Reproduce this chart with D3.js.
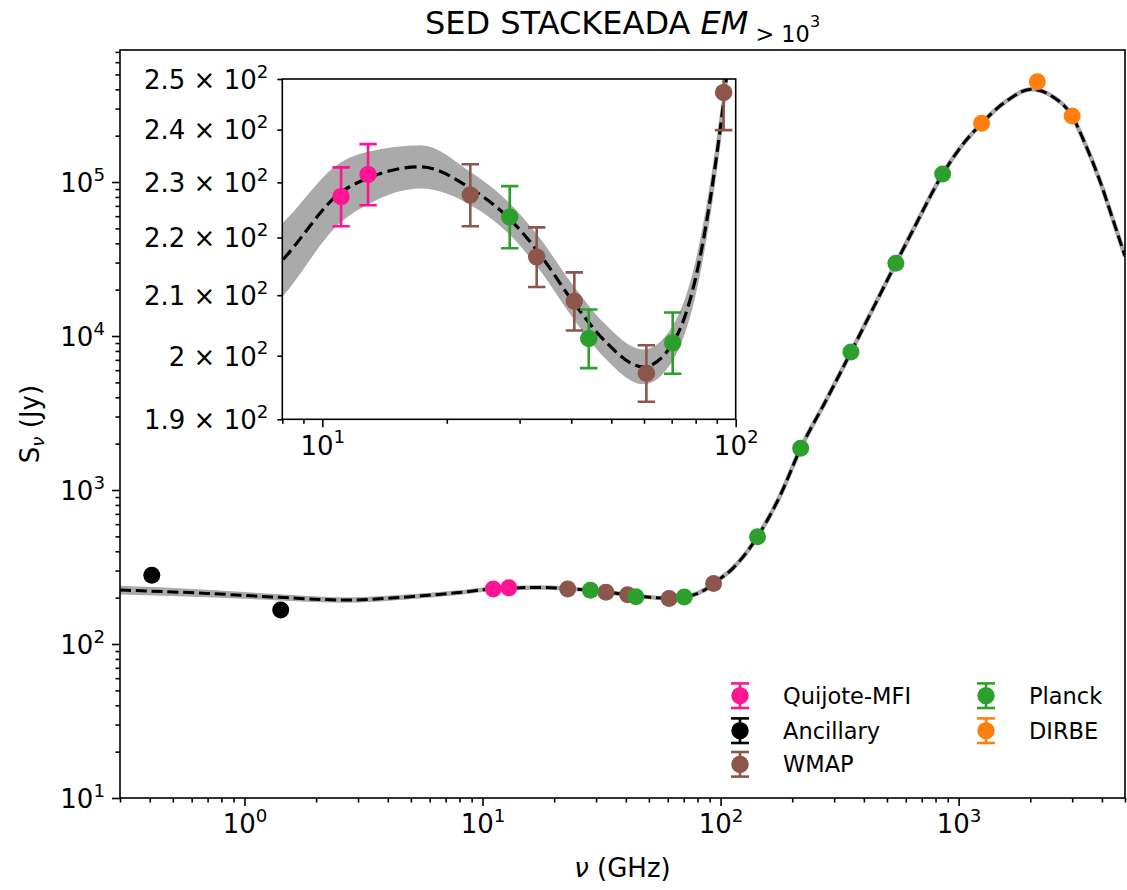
<!DOCTYPE html>
<html><head><meta charset="utf-8">
<script src="https://cdn.jsdelivr.net/npm/d3@7"></script>
<style>body{margin:0;background:#fff}svg{font-family:"DejaVu Sans",sans-serif}</style>
</head><body><svg id="c" width="1127" height="890"></svg>
<script>
// ---- data ----
const modelFreq = [0.3, 0.7, 1.4, 2.7, 5.0, 8.0, 11.1, 12.9, 17.3, 22.8, 28.5, 33.0, 40.7, 47.9, 59.8, 70.4, 80.5, 90.8, 93.7, 96, 112.6, 143, 177, 217, 278, 353, 545, 643, 857, 1010, 1249, 1586, 2021, 2490, 2998, 3441, 3910, 4450, 5000];
const modelFlux = [224, 213, 201, 193, 203, 216, 228.2, 230.8, 232.9, 228.9, 223.2, 217.8, 208.6, 202.6, 198.2, 202.0, 213.8, 237.4, 246, 254, 310, 498, 905, 1866, 3840, 7870, 29650, 48700, 112700, 165000, 240500, 335000, 400000, 358000, 268000, 169500, 103000, 57000, 33000];
const modelErrDex = [0.028, 0.024, 0.02, 0.017, 0.015, 0.0129, 0.0105, 0.0092, 0.0076, 0.0058, 0.0055, 0.0056, 0.0058, 0.006, 0.0061, 0.0061, 0.006, 0.006, 0.006, 0.006, 0.005, 0.005, 0.005, 0.005, 0.005, 0.005, 0.005, 0.005, 0.005, 0.005, 0.005, 0.005, 0.005, 0.005, 0.005, 0.005, 0.005, 0.005, 0.005];

const quijoteFreq = [11.1, 12.9];
const quijoteFlux = [227.4, 231.5];
const quijoteErr  = [5.4, 5.7];

const ancillaryFreq = [0.408, 1.42];
const ancillaryFlux = [280, 166];

const wmapFreq = [22.8, 33.0, 40.7, 60.8, 93.5];
const wmapFlux = [227.7, 216.6, 209.0, 197.2, 247.3];
const wmapErr  = [5.7, 5.2, 4.9, 4.5, 7.4];

const planckFreq = [28.4, 44.1, 70.4, 143, 217, 353, 545, 857];
const planckFlux = [223.7, 202.8, 202.1, 498, 1866, 7870, 29650, 112700];
const planckErr  = [5.6, 4.8, 5.0, null, null, null, null, null];

const dirbeFreq = [1249, 2141, 2998];
const dirbeFlux = [240500, 448000, 268400];

const mainXTicks = [1, 10, 100, 1000];
const mainXTickExp = ["0", "1", "2", "3"];
const mainYTicks = [10, 100, 1000, 10000, 100000];
const mainYTickExp = ["1", "2", "3", "4", "5"];
const insetXTicks = [10, 100];
const insetXTickExp = ["1", "2"];
const insetYTicks = [190, 200, 210, 220, 230, 240, 250];
const insetYTickMant = ["1.9", "2", "2.1", "2.2", "2.3", "2.4", "2.5"];

const legendNames = ["Quijote-MFI", "Ancillary", "WMAP", "Planck", "DIRBE"];
const legendColors = ["#ff1493", "#000000", "#8c564b", "#2ca02c", "#ff7f0e"];

// ---- drawing ----
const svg = d3.select("#c");
const C = {quijote:"#ff1493", anc:"#000000", wmap:"#8c564b", planck:"#2ca02c", dirbe:"#ff7f0e"};
const model = modelFreq.map((f,i)=>({f, v:modelFlux[i], e:modelErrDex[i]}));

const M = {l:120, r:1125, t:50, b:798};
const x = d3.scaleLog().domain([0.3, 5000]).range([M.l, M.r]);
const y = d3.scaleLog().domain([10, 7.2e5]).range([M.b, M.t]);

function minorTicks(lo, hi){
  const out=[];
  for(let p=Math.floor(Math.log10(lo)); p<=Math.ceil(Math.log10(hi)); p++){
    for(let k=2;k<=9;k++){const v=k*Math.pow(10,p); if(v>=lo*0.9999 && v<=hi*1.0001) out.push(v);}
  }
  return out;
}
function supText(t, base, exp){
  t.text(null);
  t.append("tspan").text(base);
  t.append("tspan").attr("dy","-0.62em").attr("font-size","0.7em").text(exp);
}

svg.append("defs").append("clipPath").attr("id","mainClip")
  .append("rect").attr("x",M.l).attr("y",M.t).attr("width",M.r-M.l).attr("height",M.b-M.t);
svg.select("defs").append("clipPath").attr("id","insClip");

const main = svg.append("g").attr("clip-path","url(#mainClip)");
const lineGen = (xs, ys)=>d3.line().x(d=>xs(d.f)).y(d=>ys(d.v)).curve(d3.curveMonotoneX);
const areaGen = (xs, ys)=>d3.area().x(d=>xs(d.f)).y0(d=>ys(d.v*Math.pow(10,-d.e))).y1(d=>ys(d.v*Math.pow(10,d.e))).curve(d3.curveMonotoneX);

main.append("path").datum(model).attr("d", areaGen(x,y)).attr("fill","#aaaaaa");
main.append("path").datum(model).attr("d", lineGen(x,y)).attr("fill","none").attr("stroke","#aaaaaa").attr("stroke-width",4.5);
main.append("path").datum(model).attr("d", lineGen(x,y)).attr("fill","none").attr("stroke","#000").attr("stroke-width",3).attr("stroke-dasharray","11,4.8");

function pts(g, xs, ys, fr, fl, col, r){
  g.selectAll(null).data(fr.map((f,i)=>({f, v:fl[i]}))).enter().append("circle")
    .attr("cx",d=>xs(d.f)).attr("cy",d=>ys(d.v)).attr("r",r).attr("fill",col);
}
pts(main,x,y,quijoteFreq,quijoteFlux,C.quijote,8.5);
pts(main,x,y,ancillaryFreq,ancillaryFlux,C.anc,8.5);
pts(main,x,y,wmapFreq,wmapFlux,C.wmap,8.5);
pts(main,x,y,planckFreq,planckFlux,C.planck,8.5);
pts(main,x,y,dirbeFreq,dirbeFlux,C.dirbe,8.5);

// main axes
const TF = 26;
const gx = svg.append("g").attr("transform",`translate(0,${M.b})`);
gx.call(d3.axisBottom(x).tickValues(minorTicks(0.3,5000)).tickSize(4.5).tickFormat(""));
const gxM = svg.append("g").attr("transform",`translate(0,${M.b})`);
gxM.call(d3.axisBottom(x).tickValues(mainXTicks).tickSize(8).tickPadding(9));
gxM.selectAll(".tick text").each(function(d,i){supText(d3.select(this),"10",mainXTickExp[i]);});
const gy = svg.append("g").attr("transform",`translate(${M.l},0)`);
gy.call(d3.axisLeft(y).tickValues(minorTicks(10,7.2e5)).tickSize(4.5).tickFormat(""));
const gyM = svg.append("g").attr("transform",`translate(${M.l},0)`);
gyM.call(d3.axisLeft(y).tickValues(mainYTicks).tickSize(8).tickPadding(7));
gyM.selectAll(".tick text").each(function(d,i){supText(d3.select(this),"10",mainYTickExp[i]);});
[gx,gxM,gy,gyM].forEach(g=>{g.select(".domain").remove(); g.selectAll(".tick line").attr("stroke","#000").attr("stroke-width",1.6); g.selectAll(".tick text").attr("font-size",TF).attr("fill","#000").attr("font-family","DejaVu Sans");});
gyM.selectAll(".tick text").attr("dy","0.36em");
gxM.selectAll(".tick text").attr("dy","0.71em");
svg.append("rect").attr("x",M.l).attr("y",M.t).attr("width",M.r-M.l).attr("height",M.b-M.t).attr("fill","none").attr("stroke","#000").attr("stroke-width",1.6);

// ---- inset ----
const I = {l:282.3, r:735.7, t:79, b:419.3};
const xi = d3.scaleLog().domain([8, 100]).range([I.l, I.r]);
const yi = d3.scaleLog().domain([190, 250]).range([I.b, I.t]);
svg.select("#insClip").append("rect").attr("x",I.l).attr("y",I.t).attr("width",I.r-I.l).attr("height",I.b-I.t);
svg.append("rect").attr("x",I.l).attr("y",I.t).attr("width",I.r-I.l).attr("height",I.b-I.t).attr("fill","#fff");
const ins = svg.append("g").attr("clip-path","url(#insClip)");
ins.append("path").datum(model).attr("d", areaGen(xi,yi)).attr("fill","#aaaaaa");
ins.append("path").datum(model).attr("d", lineGen(xi,yi)).attr("fill","none").attr("stroke","#000").attr("stroke-width",3.2).attr("stroke-dasharray","12,5.5");

function errpts(g, fr, fl, er, col){
  const data = fr.map((f,i)=>({f, v:fl[i], e:er[i]})).filter(d=>d.e!=null && d.f>=8 && d.f<=100);
  const gg = g.selectAll(null).data(data).enter().append("g");
  gg.append("line").attr("x1",d=>xi(d.f)).attr("x2",d=>xi(d.f)).attr("y1",d=>yi(d.v-d.e)).attr("y2",d=>yi(d.v+d.e)).attr("stroke",col).attr("stroke-width",2.6);
  [-1,1].forEach(s=>gg.append("line").attr("x1",d=>xi(d.f)-8.7).attr("x2",d=>xi(d.f)+8.7).attr("y1",d=>yi(d.v+s*d.e)).attr("y2",d=>yi(d.v+s*d.e)).attr("stroke",col).attr("stroke-width",2.6));
  gg.append("circle").attr("cx",d=>xi(d.f)).attr("cy",d=>yi(d.v)).attr("r",8.7).attr("fill",col);
}
errpts(ins, quijoteFreq, quijoteFlux, quijoteErr, C.quijote);
errpts(ins, wmapFreq, wmapFlux, wmapErr, C.wmap);
errpts(ins, planckFreq, planckFlux, planckErr, C.planck);

const ix = svg.append("g").attr("transform",`translate(0,${I.b})`);
ix.call(d3.axisBottom(xi).tickValues(minorTicks(8,100)).tickSize(4.5).tickFormat(""));
const ixM = svg.append("g").attr("transform",`translate(0,${I.b})`);
ixM.call(d3.axisBottom(xi).tickValues(insetXTicks).tickSize(8).tickPadding(9));
ixM.selectAll(".tick text").each(function(d,i){supText(d3.select(this),"10",insetXTickExp[i]);});
const iy = svg.append("g").attr("transform",`translate(${I.l},0)`);
iy.call(d3.axisLeft(yi).tickValues(insetYTicks).tickSize(5).tickPadding(9));
iy.selectAll(".tick text").each(function(d,i){supText(d3.select(this),insetYTickMant[i]+" \u00d7 10","2");});
[ix,ixM,iy].forEach(g=>{g.select(".domain").remove(); g.selectAll(".tick line").attr("stroke","#000").attr("stroke-width",1.6); g.selectAll(".tick text").attr("font-size",TF).attr("fill","#000").attr("font-family","DejaVu Sans");});
iy.selectAll(".tick text").attr("dy","0.36em");
ixM.selectAll(".tick text").attr("dy","0.71em");
svg.append("rect").attr("x",I.l).attr("y",I.t).attr("width",I.r-I.l).attr("height",I.b-I.t).attr("fill","none").attr("stroke","#000").attr("stroke-width",1.6);

// ---- titles ----
const title = svg.append("text").attr("x",(M.l+M.r)/2).attr("y",34).attr("text-anchor","middle").attr("font-size",32).attr("fill","#000");
title.append("tspan").text("SED STACKEADA ");
title.append("tspan").attr("font-style","italic").text("EM");
title.append("tspan").attr("font-size","0.7em").attr("dy","0.35em").text(" > 10");
title.append("tspan").attr("font-size","0.5em").attr("dy","-0.95em").text("3");

const xl = svg.append("text").attr("x",(M.l+M.r)/2).attr("y",877).attr("text-anchor","middle").attr("font-size",26).attr("fill","#000");
xl.append("tspan").attr("font-style","italic").text("\u03bd");
xl.append("tspan").text(" (GHz)");

const yl = svg.append("text").attr("transform",`translate(39,${(M.t+M.b)/2}) rotate(-90)`).attr("text-anchor","middle").attr("font-size",26).attr("fill","#000");
yl.append("tspan").text("S");
yl.append("tspan").attr("font-size","0.7em").attr("dy","0.3em").attr("font-style","italic").text("\u03bd");
yl.append("tspan").attr("dy","-0.21em").text(" (Jy)");

// ---- legend ----
const legPos = [[740,695.7],[740,730.7],[740,764.3],[986,695.7],[986,730.7]];
legendNames.forEach((n,i)=>{
  const [lx,ly] = legPos[i]; const col = legendColors[i];
  const g = svg.append("g");
  g.append("line").attr("x1",lx).attr("x2",lx).attr("y1",ly-12.3).attr("y2",ly+12.3).attr("stroke",col).attr("stroke-width",2.6);
  [-12.3,12.3].forEach(o=>g.append("line").attr("x1",lx-9).attr("x2",lx+9).attr("y1",ly+o).attr("y2",ly+o).attr("stroke",col).attr("stroke-width",2.6));
  g.append("circle").attr("cx",lx).attr("cy",ly).attr("r",8.7).attr("fill",col);
  g.append("text").attr("x",lx+43).attr("y",ly).attr("dy","0.36em").attr("font-size",22.5).attr("fill","#000").text(n);
});
</script></body></html>
